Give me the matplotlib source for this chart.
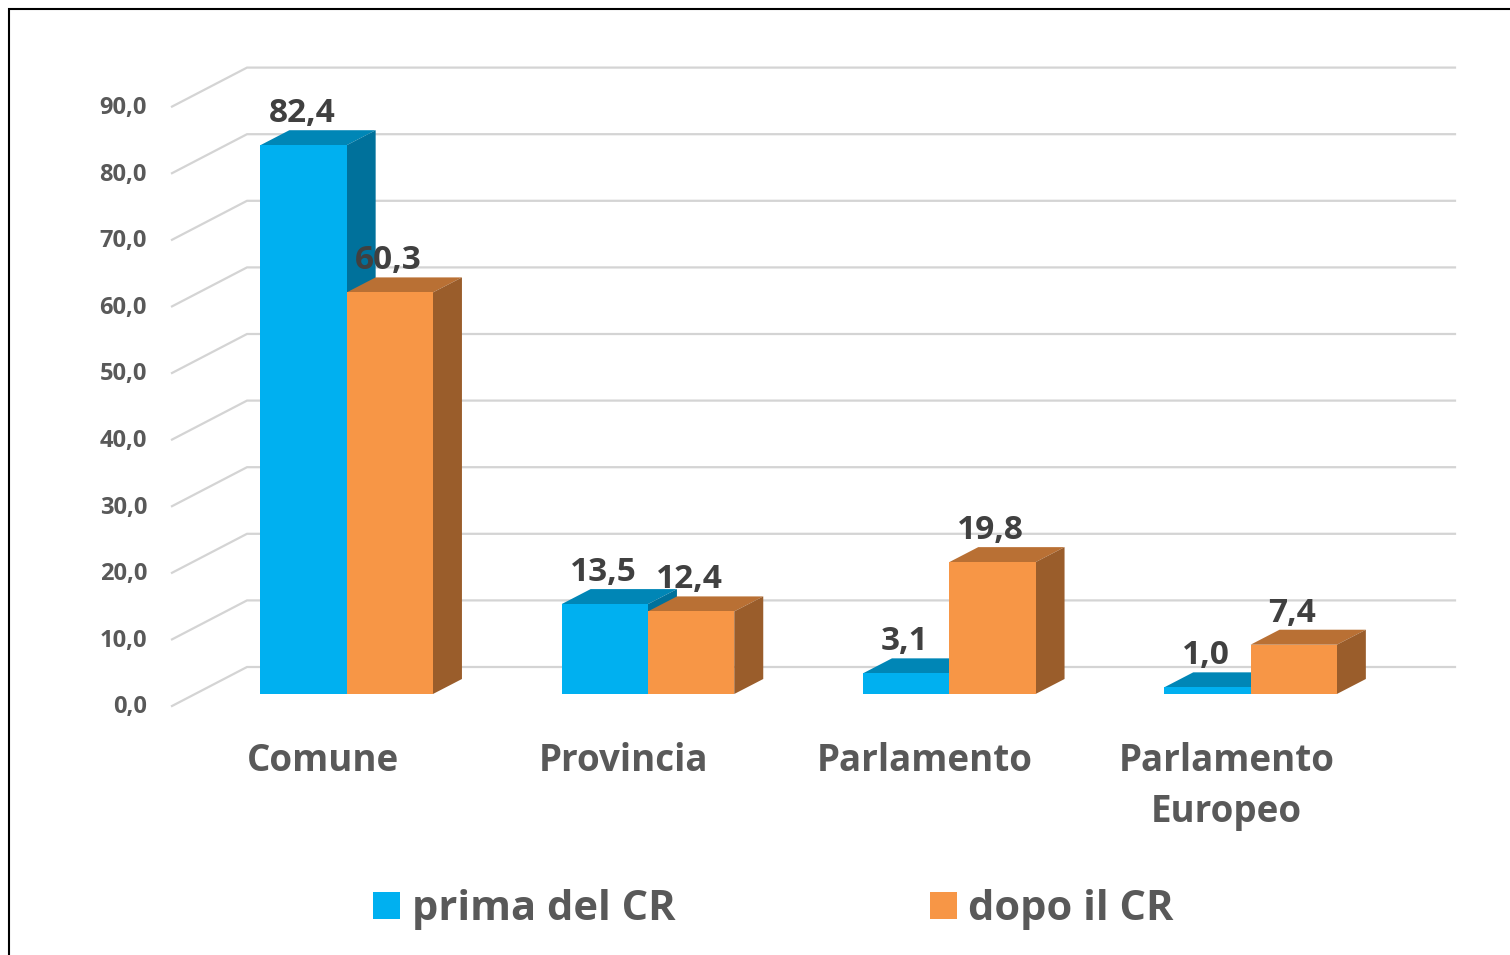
import matplotlib
matplotlib.use("Agg")
import matplotlib.pyplot as plt
from matplotlib.patches import Polygon, Patch
from matplotlib.lines import Line2D
from matplotlib.transforms import ScaledTranslation
import numpy as np

categories = ["Comune", "Provincia", "Parlamento", "Parlamento\nEuropeo"]
prima = [82.4, 13.5, 3.1, 1.0]
dopo = [60.3, 12.4, 19.8, 7.4]
series_names = ["prima del CR", "dopo il CR"]
y_ticks = [0, 10, 20, 30, 40, 50, 60, 70, 80, 90]

W, H = 1510, 955
PX_X = 301.3   # pixels per category
PX_Y = 6.66    # pixels per value unit
LEFT, RIGHT, ZERO = 172, 1455, 706

FONT = "Open Sans"
C_BLUE = ("#00B0F0", "#0086B6", "#00719B")
C_ORANGE = ("#F79646", "#B97034", "#9A5D2B")
WALL_DX, WALL_DY = 75 / PX_X, 39 / PX_Y
BAR_W = 86.3 / PX_X
BAR_X0 = 24 / PX_X
BAR_BASE = 12 / PX_Y
D_DX, D_DY = 29 / PX_X, 15 / PX_Y

fig = plt.figure(figsize=(W / 100, H / 100), dpi=100, facecolor="white")
ymax = 96
ax = fig.add_axes([LEFT / W, 1 - ZERO / H, (RIGHT - LEFT) / W, ymax * PX_Y / H])
ax.set_xlim(-0.5, -0.5 + (RIGHT - LEFT) / PX_X)
ax.set_ylim(0, ymax)
for s in ax.spines.values():
    s.set_visible(False)
ax.patch.set_visible(False)

# walls
xl = ax.get_xlim()
for v in y_ticks:
    ax.plot([xl[0], xl[0] + WALL_DX, xl[1]], [v, v + WALL_DY, v + WALL_DY],
            color="#D4D4D4", lw=1.6, zorder=1, clip_on=False, solid_joinstyle="miter")


def draw_bars(values, offset, colors, z):
    xs = np.arange(len(values)) + offset
    ax.bar(xs, values, width=BAR_W, bottom=BAR_BASE, align="edge", color=colors[0],
           linewidth=0, zorder=z + 1, clip_on=False)
    for x, v in zip(xs, values):
        t = v + BAR_BASE
        ax.add_patch(Polygon([(x, t), (x + BAR_W, t), (x + BAR_W + D_DX, t + D_DY), (x + D_DX, t + D_DY)],
                             closed=True, fc=colors[1], ec="none", zorder=z, clip_on=False))
        ax.add_patch(Polygon([(x + BAR_W, BAR_BASE), (x + BAR_W + D_DX, BAR_BASE + D_DY),
                              (x + BAR_W + D_DX, t + D_DY), (x + BAR_W, t)],
                             closed=True, fc=colors[2], ec="none", zorder=z, clip_on=False))
        ax.annotate(f"{v:.1f}".replace(".", ","), (x + BAR_W / 2, t), xytext=(-1.2, 16.6),
                    textcoords="offset points", ha="center", va="baseline", fontsize=24,
                    fontweight="bold", family=FONT, color="#404040", zorder=10,
                    annotation_clip=False)


draw_bars(prima, BAR_X0 - BAR_W, C_BLUE, 3)
draw_bars(dopo, BAR_X0, C_ORANGE, 5)

ax.set_yticks(y_ticks, [f"{v:.1f}".replace(".", ",") for v in y_ticks])
ax.tick_params(axis="y", length=0, pad=18, labelsize=17, labelcolor="#595959")
ax.set_xticks(range(len(categories)), categories)
ax.tick_params(axis="x", length=0, pad=26, labelsize=26.5, labelcolor="#595959")
up = ScaledTranslation(0, 1.2 / 72, fig.dpi_scale_trans)
for lab in ax.get_yticklabels():
    lab.set_transform(lab.get_transform() + up)
for lab in ax.get_yticklabels() + ax.get_xticklabels():
    lab.set_family(FONT)
    lab.set_fontweight("bold")
for lab in ax.get_xticklabels():
    lab.set_linespacing(1.43)

handles = [Patch(fc=C_BLUE[0], ec="none"), Patch(fc=C_ORANGE[0], ec="none")]
fig.legend(handles, series_names, loc="center", bbox_to_anchor=(773.5 / W, 1 - 909.5 / H),
           ncol=2, frameon=False, handlelength=0.645, handleheight=0.645, handletextpad=0.28,
           columnspacing=6.1, labelcolor="#595959",
           prop={"family": FONT, "weight": "bold", "size": 30})

# outer frame
fig.add_artist(Line2D([9 / W, 9 / W, 1], [0, 1 - 9.5 / H, 1 - 9.5 / H], color="black", lw=1.5,
                      transform=fig.transFigure, solid_joinstyle="miter"))

fig.savefig("out.png", dpi=100)
